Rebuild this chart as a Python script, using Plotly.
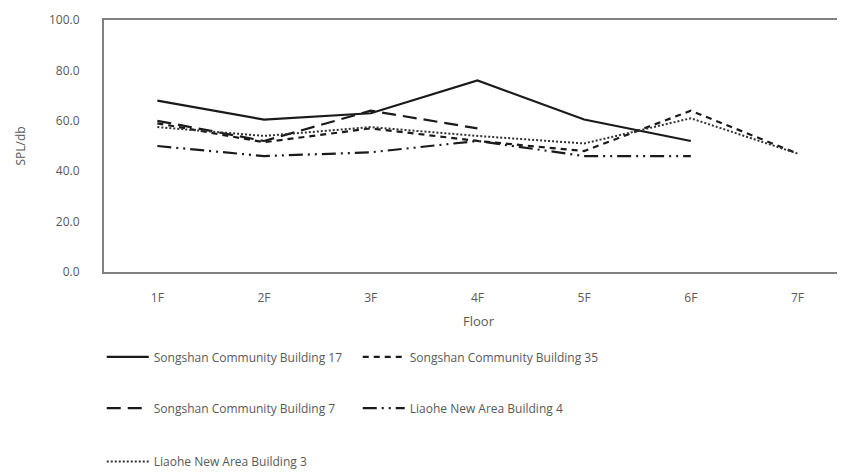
import plotly.graph_objects as go

floors = ["1F", "2F", "3F", "4F", "5F", "6F", "7F"]

b17 = [68.0, 60.5, 63.0, 76.0, 60.5, 52.0, None]
b35 = [59.0, 51.5, 57.0, 52.0, 48.0, 64.0, 47.0]
b7 = [60.0, 52.0, 64.0, 57.0, None, None, None]
l4 = [50.0, 46.0, 47.5, 52.0, 46.0, 46.0, None]
l3 = [57.5, 54.0, 57.5, 54.0, 51.0, 61.0, 47.0]

y_ticks = [0, 20, 40, 60, 80, 100]

names = [
    "Songshan Community Building 17",
    "Songshan Community Building 35",
    "Songshan Community Building 7",
    "Liaohe New Area Building 4",
    "Liaohe New Area Building 3",
]

FONT = "Open Sans"
GRAY = "#595959"

fig = go.Figure()
series = [
    (b17, names[0], "solid", "#1a1a1a", 2.2, "legend"),
    (b35, names[1], "6px,5px", "#1a1a1a", 2.2, "legend"),
    (b7, names[2], "14px,7px", "#1a1a1a", 2.2, "legend2"),
    (l4, names[3], "14px,5px,2px,5px,2px,5px", "#1a1a1a", 2.2, "legend2"),
    (l3, names[4], "2px,2px", "#333333", 2.0, "legend3"),
]
for vals, nm, dash, col, w, lg in series:
    fig.add_trace(go.Scatter(
        x=floors, y=vals, name=nm, mode="lines",
        line=dict(color=col, width=w, dash=dash),
        connectgaps=False, legend=lg,
    ))

leg_common = dict(
    orientation="h", xanchor="left", yanchor="middle",
    font=dict(family=FONT, size=12, color=GRAY),
    entrywidth=199, entrywidthmode="pixels",
    bgcolor="rgba(0,0,0,0)", itemwidth=42,
)

fig.update_layout(
    width=845, height=474,
    margin=dict(l=96, r=0, t=12, b=210, autoexpand=False),
    paper_bgcolor="white", plot_bgcolor="white",
    font=dict(family=FONT, size=12, color=GRAY),
    showlegend=True,
    legend=dict(x=-0.003, y=-0.337, **leg_common),
    legend2=dict(x=-0.003, y=-0.54, **leg_common),
    legend3=dict(x=-0.003, y=-0.752, **leg_common),
    xaxis=dict(
        type="category", range=[-0.5, 6.52], automargin=False,
        showline=True, linecolor="#808080", linewidth=2, mirror=True,
        showgrid=False, zeroline=False, ticks="",
        ticklabelstandoff=14,
        tickfont=dict(family=FONT, size=12, color=GRAY),
        title=dict(text="Floor", standoff=11,
                   font=dict(family=FONT, size=13, color=GRAY)),
    ),
    yaxis=dict(
        range=[0, 100], tickvals=y_ticks, tickformat=".1f", automargin=False,
        showline=True, linecolor="#808080", linewidth=2, mirror=False,
        showgrid=False, zeroline=False, ticks="",
        ticklabelstandoff=20,
        tickfont=dict(family=FONT, size=12, color=GRAY),
        title=dict(text="SPL/db", standoff=21,
                   font=dict(family=FONT, size=12, color=GRAY)),
    ),
)

fig.write_html("out.html")
